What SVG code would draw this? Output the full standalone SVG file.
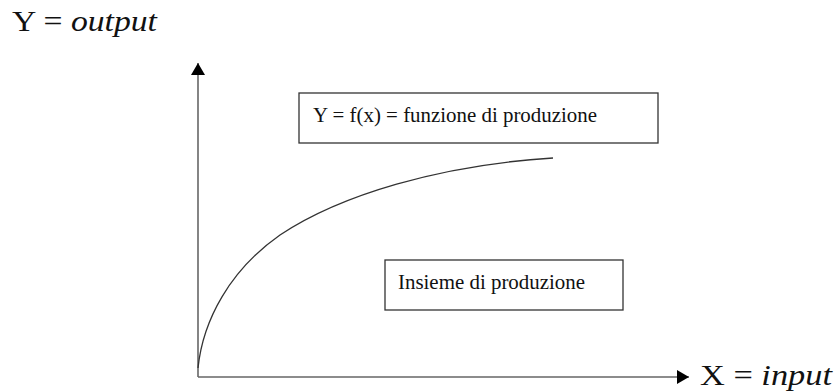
<svg xmlns="http://www.w3.org/2000/svg" width="835" height="392" viewBox="0 0 835 392">
<style>
.ax{stroke:#666;stroke-width:1.6;fill:none}
.box{fill:#fff;stroke:#333;stroke-width:1.3}
.t{fill:#111;font-family:"Liberation Serif","Times New Roman",serif}
</style>
<defs>
<marker id="ah" viewBox="0 0 12 14" refX="12" refY="7" markerWidth="12" markerHeight="14" markerUnits="userSpaceOnUse" orient="auto">
<path d="M0,0 L12,7 L0,14 z" fill="#000"/>
</marker>
</defs>
<g id="labels">
<text class="t" x="12" y="31" font-size="29" textLength="145" lengthAdjust="spacingAndGlyphs">Y = <tspan font-style="italic">output</tspan></text>
<text class="t" x="700" y="385" font-size="29" textLength="132" lengthAdjust="spacingAndGlyphs">X = <tspan font-style="italic">input</tspan></text>
</g>
<g id="connectors">
<line class="ax" x1="198" y1="377" x2="198" y2="63" marker-end="url(#ah)"/>
<line class="ax" x1="198" y1="377" x2="689" y2="377" marker-end="url(#ah)"/>
<path id="curve" class="ax" style="stroke:#333;stroke-width:1.3" d="M198,368 C203,320 230,270 280,235 C340,195 440,165 553,158"/>
</g>
<g id="node-funzione">
<rect class="box" x="299" y="93" width="359" height="50"/>
<text class="t" x="313" y="122" font-size="20.5" textLength="284" lengthAdjust="spacingAndGlyphs">Y = f(x) = funzione di produzione</text>
</g>
<g id="node-insieme">
<rect class="box" x="385" y="260" width="238" height="50"/>
<text class="t" x="398" y="289" font-size="20.5" textLength="187" lengthAdjust="spacingAndGlyphs">Insieme di produzione</text>
</g>
</svg>
